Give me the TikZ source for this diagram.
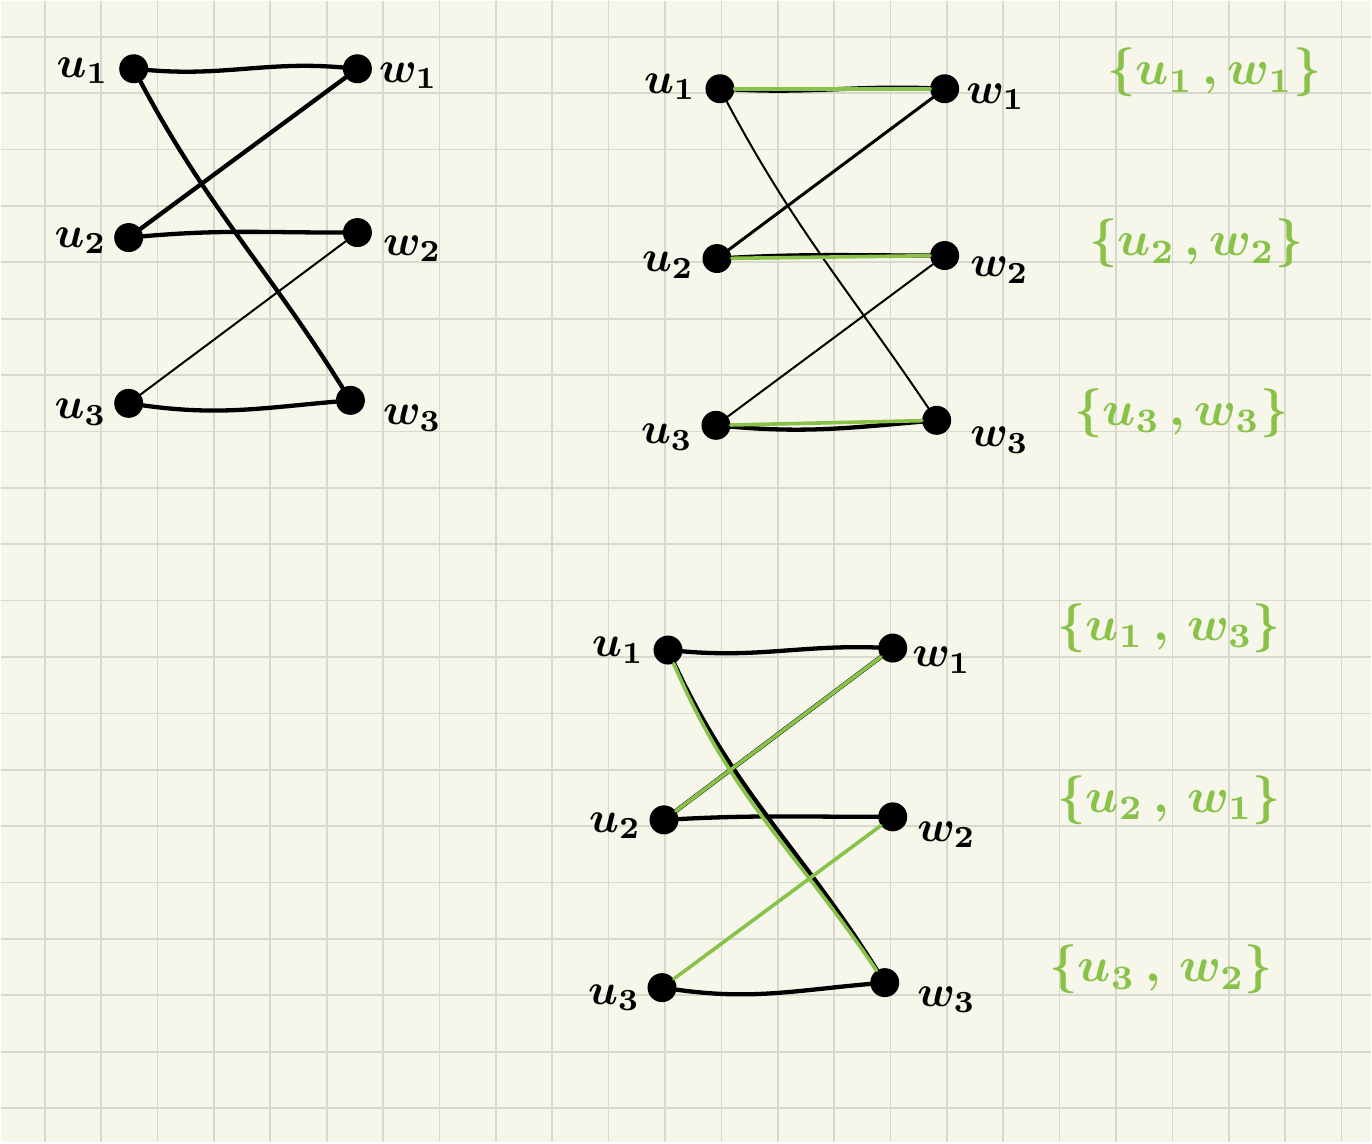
\documentclass[tikz,border=0pt]{standalone}
\usetikzlibrary{positioning}
\definecolor{paper}{RGB}{246,246,234}
\definecolor{gridgray}{RGB}{216,217,206}
\definecolor{marker}{RGB}{137,194,72}
\begin{document}
\begin{tikzpicture}[x=1pt,y=-1pt,
  dot/.style={circle,fill=black,inner sep=0pt,minimum size=29pt},
  lbl/.style={scale=4.4,inner sep=0pt,font=\boldmath},
  setlbl/.style={text=marker,scale=4.9,inner sep=0pt,font=\boldmath},
  edge/.style={line width=4.3pt,line cap=round},
  thinedge/.style={line width=2pt,line cap=round},
  match/.style={draw=marker,line width=3.6pt,line cap=round}]
% paper
\fill[paper] (0,0) rectangle (1372,1143);
\foreach \i in {0,...,23}
  \draw[gridgray,line width=1.7pt] (44+\i*56.45,0) -- (44+\i*56.45,1143);
\foreach \j in {0,...,19}
  \draw[gridgray,line width=1.7pt] (0,36+\j*56.45) -- (1372,36+\j*56.45);

% first graph
\node[dot] (uA1) at (133,68) {};
\node[dot] (wA1) at (357,68) {};
\node[dot] (uA2) at (128,237) {};
\node[dot] (wA2) at (357,232) {};
\node[dot] (uA3) at (128,403) {};
\node[dot] (wA3) at (350,400) {};
\node[lbl] (luA1) at (82,70) {$u_1$};
\node[lbl] (lwA1) at (408,75) {$w_1$};
\node[lbl] (luA2) at (80,240) {$u_2$};
\node[lbl] (lwA2) at (412,248) {$w_2$};
\node[lbl] (luA3) at (80,412) {$u_3$};
\node[lbl] (lwA3) at (412,418) {$w_3$};
\draw[edge] (uA1) to[out=-5,in=175] (wA1);
\draw[edge] (uA1) to[out=-62,in=122] (wA3);
\draw[edge] (uA2) -- (wA1);
\draw[edge] (uA2) to[out=5,in=180] (wA2);
\draw[thinedge] (uA3) -- (wA2);
\draw[edge] (uA3) to[out=-8,in=185] (wA3);

% second graph
\node[dot] (uB1) at (720,88) {};
\node[dot] (wB1) at (945,88) {};
\node[dot] (uB2) at (717,258) {};
\node[dot] (wB2) at (945,255) {};
\node[dot] (uB3) at (716,425) {};
\node[dot] (wB3) at (937,420) {};
\node[lbl] (luB1) at (670,86) {$u_1$};
\node[lbl] (lwB1) at (996,96) {$w_1$};
\node[lbl] (luB2) at (668,265) {$u_2$};
\node[lbl] (lwB2) at (1000,270) {$w_2$};
\node[lbl] (luB3) at (667,437) {$u_3$};
\node[lbl] (lwB3) at (1000,440) {$w_3$};
\draw[edge] (uB1) to[out=-3,in=178] (wB1);
\draw[thinedge] (uB1) to[out=-62,in=124] (wB3);
\draw[line width=3pt,line cap=round] (uB2) -- (wB1);
\draw[edge] (uB2) to[out=3,in=180] (wB2);
\draw[thinedge] (uB3) -- (wB2);
\draw[edge] (uB3) to[out=-5,in=185] (wB3);
\draw[match] (uB1) -- (wB1);
\draw[match] (uB2) -- (wB2);
\draw[match] (uB3) -- (wB3);
\node[setlbl] (sB1) at (1215,72) {$\{u_1\,,w_1\}$};
\node[setlbl] (sB2) at (1197,243) {$\{u_2\,,w_2\}$};
\node[setlbl] (sB3) at (1182,413) {$\{u_3\,,w_3\}$};

% third graph
\node[dot] (uC1) at (668,650) {};
\node[dot] (wC1) at (893,648) {};
\node[dot] (uC2) at (664,820) {};
\node[dot] (wC2) at (893,817) {};
\node[dot] (uC3) at (662,988) {};
\node[dot] (wC3) at (885,983) {};
\node[lbl] (luC1) at (618,650) {$u_1$};
\node[lbl] (lwC1) at (942,660) {$w_1$};
\node[lbl] (luC2) at (615,826) {$u_2$};
\node[lbl] (lwC2) at (947,835) {$w_2$};
\node[lbl] (luC3) at (614,998) {$u_3$};
\node[lbl] (lwC3) at (947,1000) {$w_3$};
\draw[edge] (uC1) to[out=-5,in=178] (wC1);
\draw[edge] (uC1) to[out=-65,in=122] (wC3);
\draw[edge] (uC2) -- (wC1);
\draw[edge] (uC2) to[out=3,in=180] (wC2);
\draw[edge] (uC3) to[out=-8,in=185] (wC3);
\draw[match] (uC1) to[out=-67,in=124] (wC3);
\draw[match] (uC2) -- (wC1);
\draw[match] (uC3) -- (wC2);
\node[setlbl] (sC1) at (1170,628) {$\{u_1\,,\,w_3\}$};
\node[setlbl] (sC2) at (1170,800) {$\{u_2\,,\,w_1\}$};
\node[setlbl] (sC3) at (1162,970) {$\{u_3\,,\,w_2\}$};
\end{tikzpicture}
\end{document}
